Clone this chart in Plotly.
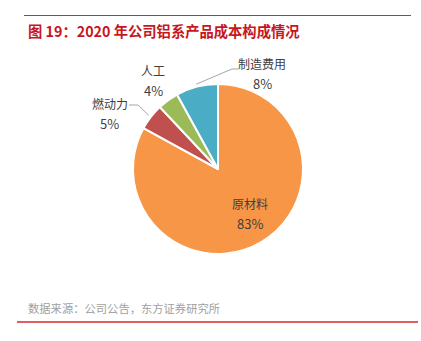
import math
import plotly.graph_objects as go

# Cost composition of the aluminium product line, 2020
categories = ["原材料", "燃动力", "人工", "制造费用"]
shares = [83, 5, 4, 8]
colors = ["#F79646", "#C0504D", "#9BBB59", "#4BACC6"]

W, H = 421, 341
CX, CY, R = 218, 169, 85  # pie centre and radius in pixels

def px(x, y):
    return x / W, 1 - y / H

fig = go.Figure(go.Pie(
    labels=categories,
    values=shares,
    sort=False,
    direction="clockwise",
    rotation=0,
    marker=dict(colors=colors, line=dict(color="white", width=2)),
    textinfo="none",
    hoverinfo="label+percent",
    showlegend=False,
    domain=dict(x=[(CX - R) / W, (CX + R) / W],
                y=[1 - (CY + R) / H, 1 - (CY - R) / H]),
))

total = sum(shares)
cum = 0
mid_angles = []
for v in shares:
    mid_angles.append((cum + v / 2) / total * 2 * math.pi)
    cum += v

def on_slice(i, frac):
    a = mid_angles[i]
    return CX + frac * R * math.sin(a), CY - frac * R * math.cos(a)

name_font = dict(family="Noto Sans CJK SC", size=12, color="#404040")
pct_font = dict(family="Noto Sans CJK SC", size=13, color="#404040")
annotations = []
shapes = []

# label placement (pixel position between the two text lines) and leader elbows
label_pos = {0: None, 1: (110, 113), 2: (153, 80), 3: (262, 73)}
leaders = {1: [(129, 105), (138, 105)], 3: [(239, 69), (232, 69)]}

for i, (name, v) in enumerate(zip(categories, shares)):
    if label_pos[i] is None:
        x, y = on_slice(i, 0.6)
        x += 6
    else:
        x, y = label_pos[i]
    xp, yp = px(x, y)
    for txt, anchor, f in [(name, "bottom", name_font), (f"{v}%", "top", pct_font)]:
        annotations.append(dict(
            x=xp, y=yp, xref="paper", yref="paper",
            text=txt, showarrow=False, borderpad=0,
            xanchor="center", yanchor=anchor,
            font=f, align="center",
        ))
    if i in leaders:
        ex, ey = on_slice(i, 1.03)
        pts = leaders[i] + [(ex, ey)]
        path = "M " + " L ".join(f"{px(a, b)[0]},{px(a, b)[1]}" for a, b in pts)
        shapes.append(dict(type="path", xref="paper", yref="paper", path=path,
                           line=dict(color="#A6A6A6", width=1)))

# title, source note and red rules
annotations.append(dict(
    x=px(26, 30)[0], y=px(26, 30)[1], xref="paper", yref="paper",
    text="<b>图 19：2020 年公司铝系产品成本构成情况</b>", showarrow=False,
    xanchor="left", yanchor="middle",
    font=dict(family="Noto Sans CJK SC", size=14.3, color="#C8161D"),
))
annotations.append(dict(
    x=px(26, 308)[0], y=px(26, 308)[1], xref="paper", yref="paper",
    text="数据来源：公司公告，东方证券研究所", showarrow=False,
    xanchor="left", yanchor="middle",
    font=dict(family="Noto Sans CJK SC", size=11.3, color="#A0A0A0"),
))
for (x0, x1, y, w) in [(24, 411, 15.5, 1), (17, 418, 322, 1.5)]:
    a0, b0 = px(x0, y)
    a1, _ = px(x1, y)
    shapes.append(dict(type="line", xref="paper", yref="paper",
                       x0=a0, x1=a1, y0=b0, y1=b0,
                       line=dict(color="#D9262B", width=w)))

fig.update_layout(
    width=W, height=H,
    margin=dict(l=0, r=0, t=0, b=0),
    paper_bgcolor="white", plot_bgcolor="white",
    annotations=annotations, shapes=shapes,
)

fig.write_html("out.html")
